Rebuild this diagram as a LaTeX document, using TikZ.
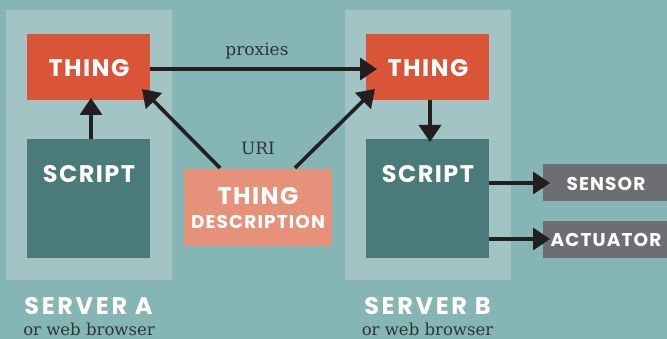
\documentclass[tikz,border=0pt]{standalone}
\usepackage{fontspec}
\newfontfamily\headfont{Poppins}[LetterSpace=6]
\newfontfamily\capfont{Poppins}[LetterSpace=11]
\setmainfont{DejaVu Serif}
\usetikzlibrary{arrows.meta}
\definecolor{bgteal}{HTML}{85B5B4}
\definecolor{panel}{HTML}{A2C4C4}
\definecolor{thingred}{HTML}{DA5538}
\definecolor{scriptteal}{HTML}{4A7A7A}
\definecolor{tdsalmon}{HTML}{E6927A}
\definecolor{devgrey}{HTML}{6D6E72}
\definecolor{ink}{HTML}{231F20}
\definecolor{serif}{HTML}{2E3536}
\tikzset{
  box/.style={inner sep=0pt, outer sep=0pt, text=white},
  big/.style={box, font=\headfont\bfseries\fontsize{24}{26}\selectfont},
  small/.style={box, font=\headfont\bfseries\fontsize{18.5}{20}\selectfont},
  caption/.style={box, font=\capfont\bfseries\fontsize{24}{26}\selectfont},
  link/.style={draw=ink, line width=3.6pt, -{Triangle[length=17pt,width=22pt]}},
  lbl/.style={font=\rmfamily\fontsize{17}{18}\selectfont, text=serif, inner sep=0pt, anchor=base},
}
\begin{document}
\begin{tikzpicture}[x=1pt,y=-1pt]
  \fill[bgteal] (0,0) rectangle (667,339);
  \useasboundingbox (0,0) rectangle (667,339);
  % server panels
  \fill[panel] (6,10) rectangle (172,280);
  \fill[panel] (345,10) rectangle (511,280);
  % server A
  \fill[thingred] (27,34) rectangle (150,100);
  \node[big] (thingA) at (89,68.5) {THING};
  \coordinate (thingAr) at (150,69);
  \fill[scriptteal] (27,139) rectangle (150,258);
  \node[big] (scriptA) at (89,174.5) {SCRIPT};
  \coordinate (scriptAt) at (91,139);
  \coordinate (thingAb) at (91,98);
  % server B
  \fill[thingred] (366,34) rectangle (489,100);
  \node[big] (thingB) at (428,68.5) {THING};
  \coordinate (thingBl) at (377,69);
  \coordinate (thingBb) at (430,100);
  \fill[scriptteal] (366,139) rectangle (489,258);
  \node[big] (scriptB) at (428,174.5) {SCRIPT};
  \coordinate (scriptBt) at (430,142);
  \coordinate (scriptBr1) at (489,183);
  \coordinate (scriptBr2) at (489,239);
  % thing description
  \fill[tdsalmon] (184,169) rectangle (332,246);
  \node[big] (tdA) at (258,196.5) {THING};
  \node[small] (tdB) at (258,221.5) {DESCRIPTION};
  \coordinate (tdL) at (220,168);
  \coordinate (tdR) at (295,168);
  % devices
  \fill[devgrey] (543,164) rectangle (667,201);
  \node[small] (sensor) at (606,183.5) {SENSOR};
  \fill[devgrey] (543,221) rectangle (667,258);
  \node[small] (actuator) at (606,240) {ACTUATOR};
  \coordinate (sensorL) at (550,183);
  \coordinate (actuatorL) at (550,239);
  % connectors
  \draw[link] (scriptAt) -- (thingAb);
  \draw[link] (thingAr) -- (thingBl);
  \draw[link] (tdL) -- (142,89) coordinate (thingAc);
  \draw[link] (tdR) -- (375,89) coordinate (thingBc);
  \draw[link] (thingBb) -- (scriptBt);
  \draw[link] (scriptBr1) -- (sensorL);
  \draw[link] (scriptBr2) -- (actuatorL);
  \node[lbl] (proxies) at (257,56) {proxies};
  \node[lbl] (uri) at (258,155) {URI};
  % captions
  \node[caption] (capA) at (88.5,306) {SERVER A};
  \node[lbl, font=\rmfamily\fontsize{16.5}{18}\selectfont] (subA) at (89,335) {or web browser};
  \node[caption] (capB) at (427.5,306) {SERVER B};
  \node[lbl, font=\rmfamily\fontsize{16.5}{18}\selectfont] (subB) at (427.5,335) {or web browser};
\end{tikzpicture}
\end{document}
